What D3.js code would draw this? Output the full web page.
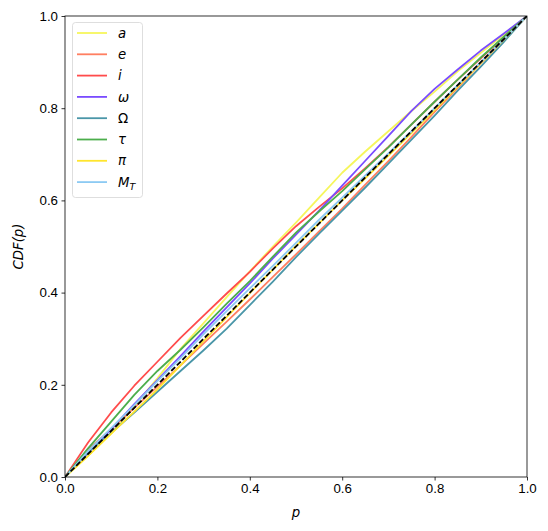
<!DOCTYPE html>
<html>
<head>
<meta charset="utf-8">
<script src="https://cdn.jsdelivr.net/npm/d3@7"></script>
<style>
  body { margin: 0; background: #fff; }
  svg { font-family: "DejaVu Sans", sans-serif; }
</style>
</head>
<body>
<div id="chart"></div>
<script>
// probability grid, shared by every series
const pGrid = [0, 0.05, 0.1, 0.15, 0.2, 0.25, 0.3, 0.35, 0.4, 0.45, 0.5, 0.55, 0.6, 0.65, 0.7, 0.75, 0.8, 0.85, 0.9, 0.95, 1];

const cdfA     = [0, 0.046, 0.094, 0.154, 0.214, 0.278, 0.334, 0.39, 0.446, 0.5, 0.552, 0.606, 0.66, 0.706, 0.75, 0.794, 0.836, 0.88, 0.92, 0.96, 1];
const cdfE     = [0, 0.06, 0.104, 0.15, 0.196, 0.242, 0.29, 0.337, 0.385, 0.434, 0.483, 0.533, 0.582, 0.634, 0.685, 0.738, 0.792, 0.844, 0.897, 0.948, 1];
const cdfI     = [0, 0.075, 0.14, 0.198, 0.25, 0.302, 0.35, 0.398, 0.445, 0.496, 0.544, 0.586, 0.626, 0.67, 0.716, 0.765, 0.814, 0.862, 0.908, 0.954, 1];
const cdfOmega = [0, 0.052, 0.104, 0.158, 0.21, 0.262, 0.316, 0.368, 0.42, 0.474, 0.526, 0.578, 0.632, 0.686, 0.74, 0.794, 0.842, 0.884, 0.925, 0.962, 1];
const cdfNode  = [0, 0.054, 0.096, 0.14, 0.185, 0.23, 0.275, 0.322, 0.373, 0.424, 0.477, 0.528, 0.578, 0.628, 0.68, 0.732, 0.784, 0.838, 0.89, 0.944, 1];
const cdfTau   = [0, 0.062, 0.12, 0.178, 0.23, 0.276, 0.325, 0.376, 0.425, 0.478, 0.53, 0.576, 0.62, 0.668, 0.715, 0.765, 0.814, 0.862, 0.91, 0.955, 1];
const cdfPi    = [0, 0.046, 0.094, 0.142, 0.19, 0.242, 0.295, 0.347, 0.399, 0.45, 0.501, 0.55, 0.6, 0.648, 0.697, 0.746, 0.796, 0.847, 0.898, 0.949, 1];
const cdfMT    = [0, 0.056, 0.106, 0.156, 0.208, 0.258, 0.31, 0.36, 0.409, 0.458, 0.508, 0.558, 0.606, 0.654, 0.702, 0.75, 0.8, 0.85, 0.9, 0.95, 1];

const seriesLabels = ["a", "e", "i", "ω", "Ω", "τ", "π", "M"];
const seriesColors = ["#f6f65c", "#ff7f61", "#ff4c4c", "#7a4bff", "#4a96a8", "#4cae4c", "#ffe52e", "#8ccaf3"];
const seriesValues = [cdfA, cdfE, cdfI, cdfOmega, cdfNode, cdfTau, cdfPi, cdfMT];
const xTicks = [0, 0.2, 0.4, 0.6, 0.8, 1.0];
const yTicks = [0, 0.2, 0.4, 0.6, 0.8, 1.0];

const margin = { top: 16, right: 21, bottom: 54, left: 65 };
const width = 548 - margin.left - margin.right;
const height = 531 - margin.top - margin.bottom;

const svg = d3.select("#chart")
    .append("svg")
    .attr("width", 548)
    .attr("height", 531)
    .append("g")
    .attr("transform", `translate(${margin.left}, ${margin.top})`);

const x = d3.scaleLinear().domain([0, 1]).range([0, width]);
const y = d3.scaleLinear().domain([0, 1]).range([height, 0]);

svg.append("clipPath").attr("id", "clip")
    .append("rect").attr("width", width).attr("height", height);

const plot = svg.append("g").attr("clip-path", "url(#clip)");

const line = d3.line()
    .x((d, i) => x(pGrid[i]))
    .y(d => y(d));

seriesValues.forEach((vals, i) => {
    plot.append("path")
        .datum(vals)
        .attr("fill", "none")
        .attr("stroke", seriesColors[i])
        .attr("stroke-width", 1.8)
        .attr("stroke-linejoin", "round")
        .attr("d", line);
});

// reference diagonal
plot.append("path")
    .datum([0, 1])
    .attr("fill", "none")
    .attr("stroke", "#000")
    .attr("stroke-width", 1.8)
    .attr("stroke-dasharray", "5.5,2.4")
    .attr("d", d3.line().x(d => x(d)).y(d => y(d)));

// axes
const xAxis = d3.axisBottom(x).tickValues(xTicks).tickFormat(d3.format(".1f")).tickSize(3.5).tickPadding(3.5);
const yAxis = d3.axisLeft(y).tickValues(yTicks).tickFormat(d3.format(".1f")).tickSize(3.5).tickPadding(3.5);

svg.append("g")
    .attr("transform", `translate(0, ${height})`)
    .call(xAxis)
    .call(g => g.select(".domain").remove())
    .call(g => g.selectAll("text").style("font-size", "13.3px").attr("fill", "#000"))
    .call(g => g.selectAll("line").attr("stroke", "#000").attr("stroke-width", 0.8));

svg.append("g")
    .call(yAxis)
    .call(g => g.select(".domain").remove())
    .call(g => g.selectAll("text").style("font-size", "13.3px").attr("fill", "#000"))
    .call(g => g.selectAll("line").attr("stroke", "#000").attr("stroke-width", 0.8));

svg.append("rect")
    .attr("width", width)
    .attr("height", height)
    .attr("fill", "none")
    .attr("stroke", "#000")
    .attr("stroke-width", 0.8);

// axis labels
svg.append("text")
    .attr("x", width / 2)
    .attr("y", height + 40)
    .attr("text-anchor", "middle")
    .style("font-size", "13.3px")
    .style("font-style", "italic")
    .text("p");

svg.append("text")
    .attr("transform", `translate(${-42}, ${height / 2}) rotate(-90)`)
    .attr("text-anchor", "middle")
    .style("font-size", "13.3px")
    .style("font-style", "italic")
    .text("CDF(p)");

// legend
const legend = svg.append("g").attr("transform", "translate(7.5, 6.5)");

legend.append("rect")
    .attr("width", 70)
    .attr("height", 175)
    .attr("rx", 3)
    .attr("fill", "#fff")
    .attr("fill-opacity", 0.8)
    .attr("stroke", "#d5d5d5")
    .attr("stroke-width", 0.8);

seriesLabels.forEach((label, i) => {
    const row = legend.append("g").attr("transform", `translate(0, ${10.5 + i * 21.3})`);
    row.append("line")
        .attr("x1", 4.5).attr("x2", 34.5)
        .attr("stroke", seriesColors[i])
        .attr("stroke-width", 1.8);
    const t = row.append("text")
        .attr("x", 45.5)
        .attr("y", 4.6)
        .style("font-size", "13.3px")
        .style("font-style", label === "Ω" ? "normal" : "italic")
        .text(label);
    if (label === "M") {
        t.append("tspan")
            .attr("dy", 3)
            .style("font-size", "9.5px")
            .text("T");
    }
});
</script>
</body>
</html>
